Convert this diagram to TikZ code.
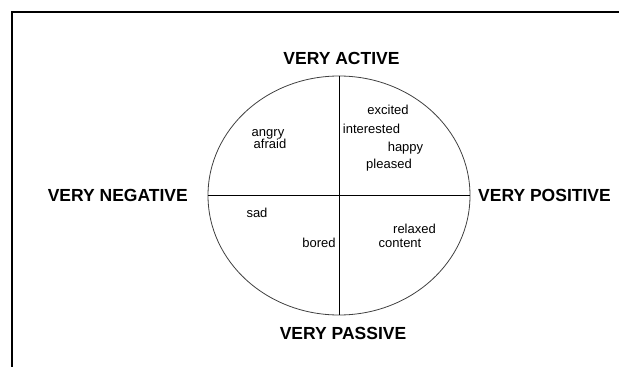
\documentclass[tikz,border=0pt]{standalone}
\usepackage{fontspec}
\setmainfont{Liberation Sans}
\usepackage{tikz}
\usetikzlibrary{shapes.geometric,positioning}

\begin{document}
\begin{tikzpicture}[x=1pt, y=-1pt,
    pole/.style={font=\fontsize{17.5}{20}\selectfont\bfseries, inner sep=0pt},
    mood/.style={font=\fontsize{13}{12}\selectfont, inner sep=0pt, anchor=base},
    axis/.style={draw, line width=0.8pt}
]
    \useasboundingbox (0,0) rectangle (619,367);
    \clip (0,0) rectangle (619,367);
    \draw[line width=2pt] (12,12) rectangle (660,400);

    \node[ellipse, draw=black!75, line width=0.8pt, minimum width=262pt, minimum height=239pt, inner sep=0pt] (circ) at (339,195.5) {};
    \draw[axis] (circ.north) -- (circ.south);
    \draw[axis] (circ.west) -- (circ.east);

    \node[pole, anchor=base] (active) at (341.5,64) {VERY ACTIVE};
    \node[pole, anchor=base] (passive) at (343,339) {VERY PASSIVE};
    \node[pole, anchor=base east] (negative) at (188,201) {VERY NEGATIVE};
    \node[pole, anchor=base west] (positive) at (478,201) {VERY POSITIVE};

    \node[mood] (excited) at (388,114) {excited};
    \node[mood] (interested) at (371.5,133) {interested};
    \node[mood] (happy) at (405.5,151) {happy};
    \node[mood] (pleased) at (389,168) {pleased};
    \node[mood] (angry) at (268,136) {angry};
    \node[mood] (afraid) at (270,148) {afraid};
    \node[mood] (sad) at (257,217) {sad};
    \node[mood] (bored) at (319,247) {bored};
    \node[mood] (relaxed) at (414.5,233) {relaxed};
    \node[mood] (content) at (400,247) {content};
\end{tikzpicture}
\end{document}
